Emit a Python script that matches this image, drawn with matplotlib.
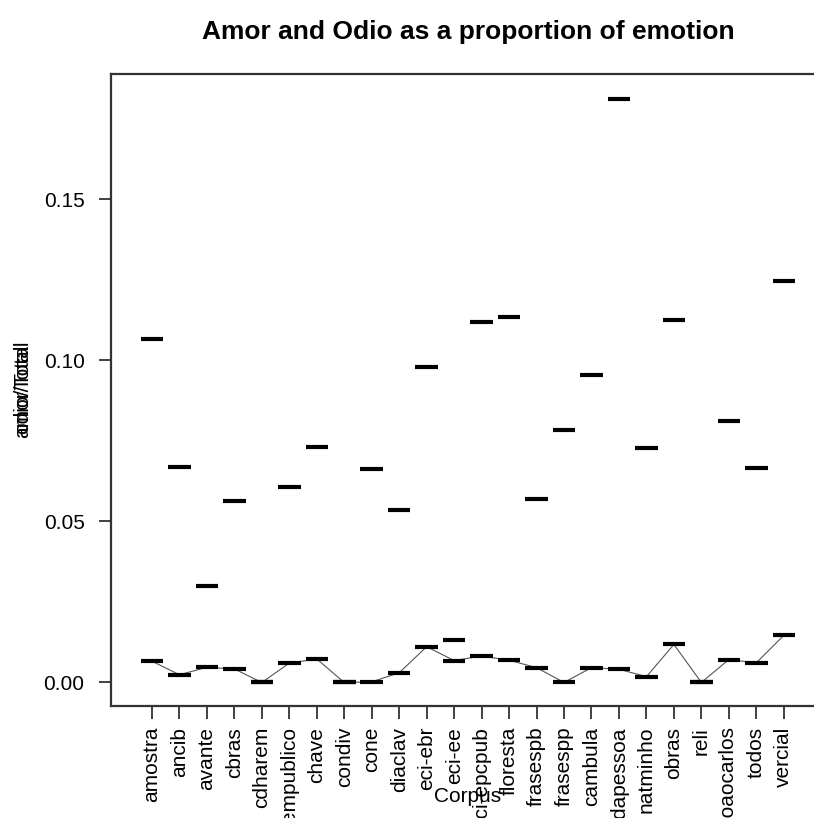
import numpy as np
import matplotlib
matplotlib.use("Agg")
import matplotlib.pyplot as plt

plt.rcParams['font.family'] = ['Liberation Sans', 'DejaVu Sans']

corpus = ["amostra", "ancib", "avante", "cbras", "cdharem", "cetempublico",
          "chave", "condiv", "cone", "diaclav", "eci-ebr", "eci-ee",
          "eci-epcpub", "floresta", "frasespb", "frasespp", "cambula",
          "museudapessoa", "natminho", "obras", "reli", "joaocarlos",
          "todos", "vercial"]

# amor/Total (upper dashes)
amor = [0.1065, 0.0670, 0.0300, 0.0562, 0.0, 0.0608,
        0.0731, 0.0, 0.0661, 0.0536, 0.0979, 0.0131,
        0.1117, 0.1134, 0.0568, 0.0783, 0.0954,
        0.1809, 0.0727, 0.1124, 0.0, 0.0811,
        0.0666, 0.1247]

# odio/Total (lower dashes, joined by a line)
odio = [0.0066, 0.0024, 0.0047, 0.0042, 0.0, 0.0060,
        0.0073, 0.0, 0.0002, 0.0030, 0.0111, 0.0068,
        0.0082, 0.0069, 0.0046, 0.0, 0.0046,
        0.0041, 0.0018, 0.0118, 0.0, 0.0071,
        0.0061, 0.0146]

yticks = [0.0, 0.05, 0.10, 0.15]

W, H = 814, 818
fig = plt.figure(figsize=(W / 100, H / 100), dpi=100)
ax = fig.add_axes([111 / W, 1 - 706 / H, (825 - 111) / W, (706 - 74) / H])

x = np.arange(1, len(corpus) + 1)

ax.plot(x, odio, color='#555555', lw=0.8, zorder=2)
ax.hlines(amor, x - 0.41, x + 0.41, color='black', lw=3, zorder=3)
ax.hlines(odio, x - 0.41, x + 0.41, color='black', lw=3, zorder=3)

ax.set_xlim(-0.49, 25.5)
ax.set_ylim(-0.0073, 0.1888)

ax.set_xticks(x)
ax.set_xticklabels(corpus, rotation=90, fontsize=15, va='top')
ax.set_yticks(yticks)
ax.set_yticklabels(["%.2f" % t for t in yticks], fontsize=15)
ax.tick_params(axis='both', direction='out', length=9, width=1.3,
               color='#333333')
ax.tick_params(axis='x', pad=6)
ax.tick_params(axis='y', pad=10)

for s in ax.spines.values():
    s.set_linewidth(1.6)
    s.set_color('#333333')

fig.text(468 / W, 1 - 32 / H, "Amor and Odio as a proportion of emotion",
         ha='center', va='center', fontsize=19, fontweight='bold')
fig.text(468 / W, 1 - 797 / H, "Corpus", ha='center', va='center',
         fontsize=15)
# both y labels are drawn in the same place
fig.text(23 / W, 1 - 389 / H, "amor/Total", rotation=90, ha='center',
         va='center', fontsize=15)
fig.text(23 / W, 1 - 389 / H, "odio/Total", rotation=90, ha='center',
         va='center', fontsize=15)

plt.savefig("out.png", dpi=100)
